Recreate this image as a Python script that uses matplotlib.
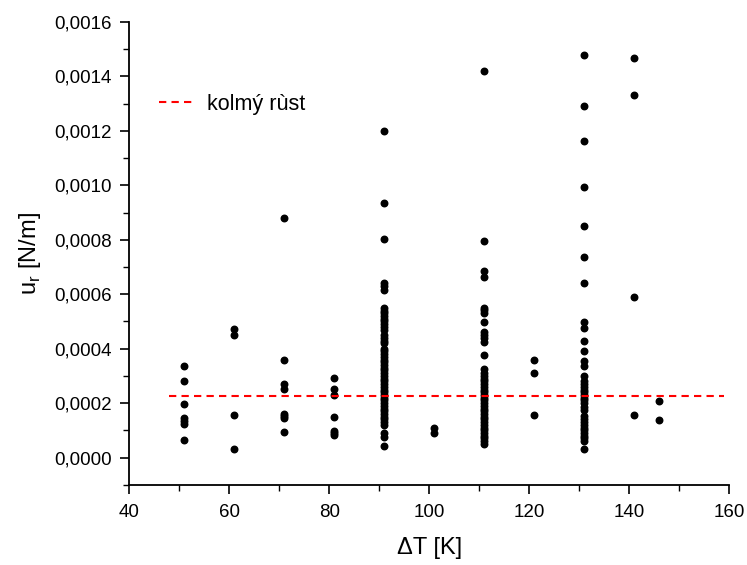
import numpy as np
import matplotlib
matplotlib.use("Agg")
import matplotlib.pyplot as plt
from matplotlib.ticker import FuncFormatter, MultipleLocator

plt.rcParams['font.family'] = ['Liberation Sans', 'DejaVu Sans']

# measured values, grouped by temperature difference
dT_groups = [51, 61, 71, 81, 91, 101, 111, 121, 131, 141, 146]
u_groups = [
    [0.000338, 0.000283, 0.000195, 0.000146, 0.000133, 0.000125, 0.000065],
    [0.000473, 0.000451, 0.000158, 0.000032],
    [0.00088, 0.000358, 0.000272, 0.000252, 0.00016, 0.000152, 0.000146, 0.000094],
    [0.000292, 0.000253, 0.000228, 0.000149, 0.000097, 0.000091, 0.000084],
    [0.00120, 0.000935, 0.000804, 0.00064, 0.00063, 0.000617, 0.00055, 0.00054,
     0.00053, 0.00052, 0.00051, 0.0005, 0.00049, 0.00048, 0.00047, 0.00045,
     0.00044, 0.00043, 0.00042, 0.0004, 0.00039, 0.00038, 0.00037, 0.00036,
     0.00035, 0.00034, 0.00033, 0.00032, 0.00031, 0.0003, 0.00029, 0.00028,
     0.00027, 0.00026, 0.00025, 0.00024, 0.00023, 0.00022, 0.00021, 0.0002,
     0.00019, 0.00018, 0.00017, 0.00016, 0.00015, 0.00014, 0.00013, 0.00012,
     0.00009, 0.000075, 0.000044],
    [0.00011, 0.00009],
    [0.00142, 0.000797, 0.000686, 0.000665, 0.00055, 0.000543, 0.000531, 0.000497,
     0.00046, 0.00045, 0.00044, 0.000423, 0.000378, 0.000326, 0.00031, 0.0003,
     0.00029, 0.00028, 0.00027, 0.00026, 0.00025, 0.00024, 0.00023, 0.00022,
     0.00021, 0.0002, 0.00019, 0.00018, 0.00017, 0.00016, 0.00015, 0.00014,
     0.00013, 0.00012, 0.00011, 0.0001, 0.00009, 0.00008, 0.00007, 0.00006,
     0.000048],
    [0.00036, 0.000312, 0.000158],
    [0.00148, 0.001292, 0.001163, 0.000995, 0.000849, 0.000737, 0.00064, 0.000497,
     0.000475, 0.000427, 0.00039, 0.000353, 0.000335, 0.000298, 0.00028, 0.00027,
     0.00026, 0.00025, 0.00024, 0.00023, 0.00022, 0.00021, 0.0002, 0.000185,
     0.000176, 0.000152, 0.00014, 0.00013, 0.00012, 0.00011, 0.0001, 0.00009,
     0.00008, 0.00007, 0.00006, 0.000033],
    [0.001467, 0.001332, 0.000591, 0.000157],
    [0.000207, 0.000139],
]

# vertical growth reference level
kolmy_x = [48, 159]
kolmy_u = 0.000225

dT = np.concatenate([[t] * len(u) for t, u in zip(dT_groups, u_groups)])
u = np.concatenate(u_groups)

fig = plt.figure(figsize=(7.47, 5.65), dpi=100)
ax = fig.add_axes([0.173, 0.142, 0.803, 0.819])

ax.scatter(dT, u, s=22, color='black', zorder=3)
ax.plot(kolmy_x, [kolmy_u, kolmy_u], color='red', linestyle='--',
        linewidth=1.5, dashes=(3.5, 2.5), label='kolmý rùst', zorder=4)

ax.set_xlim(40, 160)
ax.set_ylim(-0.0001, 0.0016)
ax.xaxis.set_major_locator(MultipleLocator(20))
ax.xaxis.set_minor_locator(MultipleLocator(10))
ax.yaxis.set_major_locator(MultipleLocator(0.0002))
ax.yaxis.set_minor_locator(MultipleLocator(0.0001))
ax.yaxis.set_major_formatter(FuncFormatter(lambda v, p: f"{v:.4f}".replace('.', ',').replace('-0,0000', '0,0000')))
ax.xaxis.set_major_formatter(FuncFormatter(lambda v, p: f"{v:.0f}"))

for side in ['top', 'right']:
    ax.spines[side].set_visible(False)
for side in ['left', 'bottom']:
    ax.spines[side].set_linewidth(1.3)

ax.tick_params(which='major', direction='out', length=6.5, width=1.2, labelsize=13.5)
ax.tick_params(axis='y', which='major', pad=6)
ax.tick_params(axis='x', which='major', pad=7)
ax.tick_params(which='minor', direction='out', length=4, width=1.0)

ax.set_xlabel("ΔT [K]", fontsize=17, labelpad=12)
ax.set_ylabel("u$_\\mathregular{r}$ [N/m]", fontsize=17, labelpad=8)

ax.legend(loc='upper left', bbox_to_anchor=(0.018, 0.887), frameon=False,
          fontsize=15.5, handlelength=1.6, handletextpad=0.6)

plt.savefig("out.png", dpi=100)
plt.close()
